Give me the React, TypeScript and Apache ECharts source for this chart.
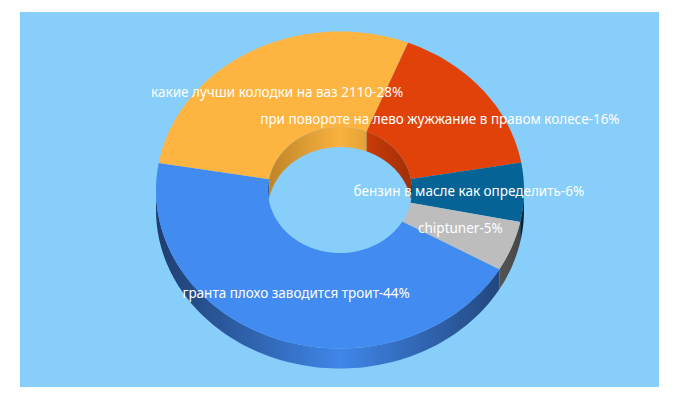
import React, { useEffect, useRef } from "react";
import * as echarts from "echarts";

const categories = [
  "гранта плохо заводится троит",
  "какие лучши колодки на ваз 2110",
  "при повороте на лево жужжание в правом колесе",
  "бензин в масле как определить",
  "chiptuner",
];
const shares = [44.4, 28.3, 16.2, 6.0, 5.1];
const labelPercents = [44, 28, 16, 6, 5];
const topColors = ["#418BF1", "#FDB440", "#E0420A", "#056495", "#BDBDBD"];
const outerStops = [
  ["#1F3D6F", "#3F86E8", "#1F3D6F"],
  ["#8A6020", "#FDB440", "#8A6020"],
  ["#7A2405", "#E0420A", "#7A2405"],
  ["#02202F", "#056495", "#02202F"],
  ["#444444", "#BDBDBD", "#444444"],
];
const innerStops = [
  ["#2A5BA0", "#418BF1", "#2A5BA0"],
  ["#BE8428", "#F9B23F", "#BE8428"],
  ["#A02F06", "#E0420A", "#A02F06"],
  ["#03405F", "#056495", "#03405F"],
  ["#7A7A7A", "#BDBDBD", "#7A7A7A"],
];
const startDeg = 120;

const CX = 340;
const CY = 190;
const RX = 184;
const RY = 158.5;
const IRX = 72;
const IRY = 63;
const DEPTH = 20;
const LABEL_K = 0.7;

const rad = (d: number) => (d * Math.PI) / 180;
const total = shares.reduce((a, b) => a + b, 0);

function range(a: number, b: number) {
  const n = Math.max(2, Math.ceil((b - a) / 1.5));
  const out: number[] = [];
  for (let i = 0; i <= n; i++) out.push(a + ((b - a) * i) / n);
  return out;
}
const ell = (t: number, rx: number, ry: number, dy = 0): number[] => [
  CX + rx * Math.sin(rad(t)),
  CY + dy - ry * Math.cos(rad(t)),
];
const grad = (x0: number, x1: number, c: string[]) =>
  new echarts.graphic.LinearGradient(
    x0, 0, x1, 0,
    [
      { offset: 0, color: c[0] },
      { offset: 0.5, color: c[1] },
      { offset: 1, color: c[2] },
    ],
    true
  );

// visible part of [a,b] inside [lo,hi], taking wrap-around into account
function overlap(a: number, b: number, lo: number, hi: number) {
  const res: number[][] = [];
  for (const k of [-360, 0, 360]) {
    const s = Math.max(a, lo + k);
    const e = Math.min(b, hi + k);
    if (e > s) res.push([s, e]);
  }
  return res;
}

function renderItem(params: any, api: any) {
  const i = params.dataIndex;
  const v = api.value(0);
  let before = 0;
  for (let k = 0; k < i; k++) before += shares[k];
  const a = startDeg + (before / total) * 360;
  const b = a + (v / total) * 360;
  const children: any[] = [];

  // outer side wall
  overlap(a, b, 90, 270).forEach(([s, e]) => {
    const ts = range(s, e);
    const pts = ts
      .map((t) => ell(t, RX, RY))
      .concat(ts.slice().reverse().map((t) => ell(t, RX, RY, DEPTH)));
    children.push({
      type: "polygon",
      shape: { points: pts },
      style: { fill: grad(CX - RX, CX + RX, outerStops[i]) },
      z2: 1,
    });
  });

  // inner wall seen through the hole
  overlap(a, b, -90, 90).forEach(([s, e]) => {
    const ts = range(s, e);
    const upper = ts.map((t) => ell(t, IRX, IRY));
    const lower = ts
      .slice()
      .reverse()
      .map((t) => {
        const [x] = ell(t, IRX, IRY);
        const h = IRY * Math.abs(Math.cos(rad(t)));
        return [x, Math.min(CY + DEPTH - h, CY + h)];
      });
    children.push({
      type: "polygon",
      shape: { points: upper.concat(lower) },
      style: { fill: grad(CX - IRX, CX + IRX, innerStops[i]) },
      z2: 1,
    });
  });

  // top face
  const ts = range(a, b);
  const face = ts
    .map((t) => ell(t, RX, RY))
    .concat(ts.slice().reverse().map((t) => ell(t, IRX, IRY)));
  children.push({
    type: "polygon",
    shape: { points: face },
    style: { fill: topColors[i] },
    z2: 2,
  });

  // label
  const mid = (a + b) / 2;
  const [lx, ly] = ell(mid, RX * LABEL_K, RY * LABEL_K);
  children.push({
    type: "text",
    z2: 10,
    style: {
      x: lx,
      y: ly - 1,
      text: `${categories[i]}-${labelPercents[i]}%`,
      align: "center",
      verticalAlign: "middle",
      fill: "#ffffff",
      font: '13.5px "Noto Sans"',
    },
  });
  return { type: "group", children };
}

export default function App() {
  const ref = useRef<HTMLDivElement>(null);
  useEffect(() => {
    document.body.style.margin = "0";
    const chart = echarts.init(ref.current!, undefined, { renderer: "svg" });
    chart.setOption({
      animation: false,
      backgroundColor: "#ffffff",
      graphic: [
        {
          type: "rect",
          z: -10,
          shape: { x: 20, y: 12, width: 639, height: 375 },
          style: { fill: "#87CEFA" },
        },
      ],
      series: [
        {
          type: "custom",
          coordinateSystem: "none",
          renderItem,
          data: shares.map((s) => [s]),
          silent: true,
        },
      ],
    });
    return () => chart.dispose();
  }, []);
  return <div ref={ref} style={{ width: 680, height: 400 }} />;
}
